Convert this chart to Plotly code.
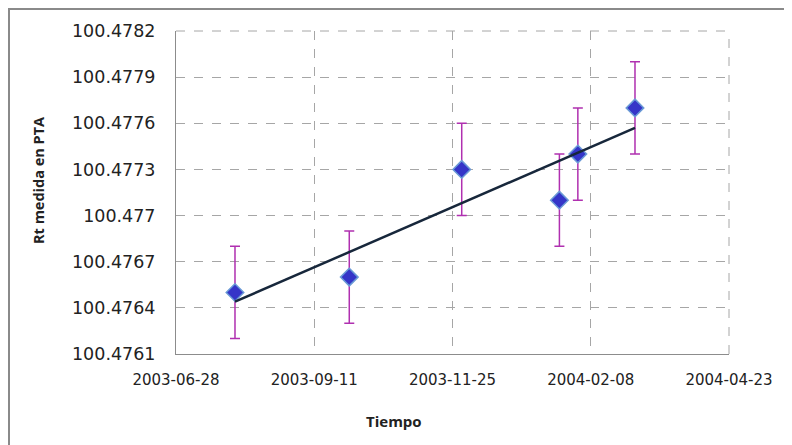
import plotly.graph_objects as go

# Data
fechas = ["2003-07-30", "2003-09-30", "2003-11-30", "2004-01-22", "2004-02-01", "2004-03-03"]
rt = [100.4765, 100.4766, 100.4773, 100.4771, 100.4774, 100.4777]
err = [0.0003, 0.0003, 0.0003, 0.0003, 0.0003, 0.0003]

trend_x = ["2003-07-30", "2004-03-03"]
trend_y = [100.47644, 100.47757]

x_ticks = ["2003-06-28", "2003-09-11", "2003-11-25", "2004-02-08", "2004-04-23"]
y_ticks = [100.4761, 100.4764, 100.4767, 100.4770, 100.4773, 100.4776, 100.4779, 100.4782]
y_ticktext = ["100.4761", "100.4764", "100.4767", "100.477", "100.4773", "100.4776", "100.4779", "100.4782"]

OFF = 8  # page body margin
L, R, T, B = 176 - OFF, 63, 31 - OFF, 91
W, H = 792 - OFF, 445 - OFF
pw, ph = W - L - R, H - T - B

fig = go.Figure()
fig.add_trace(go.Scatter(
    x=fechas, y=rt, mode="markers",
    marker=dict(symbol="diamond", size=13.5, color="#3535c8",
                line=dict(color="#6a9ad6", width=1.5)),
    error_y=dict(type="data", array=err, visible=True, color="#b030b0",
                 thickness=1.5, width=5),
    showlegend=False,
))
fig.add_trace(go.Scatter(
    x=trend_x, y=trend_y, mode="lines",
    line=dict(color="#17273b", width=2.5), showlegend=False,
))

def px(xp):
    return (xp - OFF - L) / pw

def py(yp):
    return 1 - (yp - OFF - T) / ph

fig.add_shape(type="line", xref="paper", yref="paper",
              x0=px(8), x1=px(820), y0=py(9), y1=py(9),
              line=dict(color="#8a8a8a", width=2))
fig.add_shape(type="line", xref="paper", yref="paper",
              x0=px(9), x1=px(9), y0=py(9), y1=py(460),
              line=dict(color="#8a8a8a", width=2))
# right and top dashed borders of the plot area
fig.add_shape(type="line", xref="paper", yref="paper",
              x0=1, x1=1, y0=0, y1=1, layer="below",
              line=dict(color="#a6a6a6", width=1, dash="dash"))
fig.add_shape(type="line", xref="paper", yref="paper",
              x0=0, x1=1, y0=1, y1=1, layer="below",
              line=dict(color="#a6a6a6", width=1, dash="dash"))

fig.add_annotation(text="<b>Tiempo</b>", xref="paper", yref="paper",
                   x=px(394), y=py(421), showarrow=False,
                   xanchor="center", yanchor="middle",
                   font=dict(family="Open Sans", size=15, color="#222"))
fig.add_annotation(text="<b>Rt medida en PTA</b>", xref="paper", yref="paper",
                   x=px(38), y=py(181), showarrow=False, textangle=-90,
                   xanchor="center", yanchor="middle",
                   font=dict(family="Open Sans", size=14.5, color="#222"))

fig.update_layout(
    template="none",
    width=W, height=H,
    margin=dict(l=L, r=R, t=T, b=B, autoexpand=False),
    paper_bgcolor="white", plot_bgcolor="white",
    xaxis=dict(range=[x_ticks[0], x_ticks[-1]], tickvals=x_ticks, ticktext=x_ticks,
               showgrid=True, gridcolor="#a6a6a6", griddash="dash", gridwidth=1,
               showline=True, linecolor="#8c8c8c", linewidth=1, automargin=False,
               ticks="", ticklabelstandoff=12,
               tickfont=dict(family="DejaVu Sans", size=15, color="#222"),
               zeroline=False),
    yaxis=dict(range=[y_ticks[0], y_ticks[-1]], tickvals=y_ticks, ticktext=y_ticktext,
               showgrid=True, gridcolor="#a6a6a6", griddash="dash", gridwidth=1,
               showline=True, linecolor="#8c8c8c", linewidth=1, automargin=False,
               ticks="", ticklabelstandoff=16,
               tickfont=dict(family="DejaVu Sans", size=17.5, color="#222"),
               zeroline=False),
)

fig.write_html("out.html")
